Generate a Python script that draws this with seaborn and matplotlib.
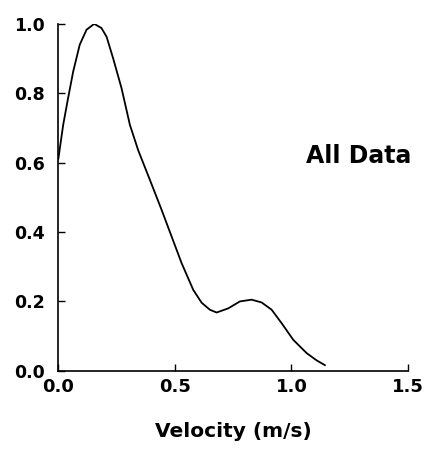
import matplotlib
matplotlib.use("Agg")
import matplotlib.pyplot as plt
import seaborn as sns
import pandas as pd

velocity = [0.000, 0.021, 0.042, 0.064, 0.092, 0.121, 0.154, 0.185, 0.207, 0.235,
            0.271, 0.307, 0.343, 0.393, 0.443, 0.486, 0.529, 0.579, 0.615, 0.650,
            0.679, 0.729, 0.779, 0.829, 0.872, 0.915, 0.958, 1.008, 1.065, 1.108, 1.144]
density = [0.610, 0.709, 0.786, 0.863, 0.940, 0.983, 1.000, 0.988, 0.963, 0.901,
           0.815, 0.709, 0.635, 0.550, 0.464, 0.387, 0.310, 0.233, 0.196, 0.176,
           0.168, 0.180, 0.200, 0.205, 0.197, 0.176, 0.137, 0.089, 0.051, 0.030, 0.016]
xticks = [0.0, 0.5, 1.0, 1.5]
yticks = [0.0, 0.2, 0.4, 0.6, 0.8, 1.0]

sns.set_theme(style="ticks")
plt.rcParams['font.family'] = ['DejaVu Sans']
plt.rcParams['font.weight'] = 'bold'
plt.rcParams['text.color'] = 'black'

df = pd.DataFrame({"Velocity": velocity, "Density": density})

fig = plt.figure(figsize=(4.45, 4.5), dpi=100)
ax = fig.add_axes([0.131, 0.176, 0.786, 0.771])
sns.lineplot(data=df, x="Velocity", y="Density", ax=ax, color="black", linewidth=1.3)

ax.set_xlim(0, 1.5)
ax.set_ylim(0, 1.0)
ax.set_xticks(xticks)
ax.set_yticks(yticks)
ax.set_xticklabels([f"{t:.1f}" for t in xticks], fontsize=13, fontweight='bold')
ax.set_yticklabels([f"{t:.1f}" for t in yticks], fontsize=12.5, fontweight='bold')
ax.tick_params(axis='both', direction='in', length=5, width=1, colors='black',
               labelcolor='black')
ax.tick_params(axis='x', pad=5)
ax.tick_params(axis='y', pad=10)
sns.despine(ax=ax)
for s in ['left', 'bottom']:
    ax.spines[s].set_linewidth(1.2)
    ax.spines[s].set_color('black')

ax.set_xlabel("Velocity (m/s)", fontsize=14.5, fontweight='bold', labelpad=19,
              color='black')
ax.set_ylabel("")
ax.text(1.29, 0.62, "All Data", fontsize=17, fontweight='bold', ha='center',
        va='center', color='black')

fig.savefig("out.png", dpi=100, facecolor='white')
